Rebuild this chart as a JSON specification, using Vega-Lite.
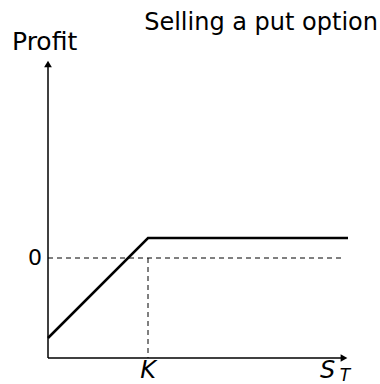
{
  "$schema": "https://vega.github.io/schema/vega-lite/v6.json",
  "autosize": "none",
  "width": 300,
  "height": 300,
  "padding": {"left": 48, "top": 58, "right": 32, "bottom": 26},
  "background": "white",
  "config": {"view": {"stroke": null}, "font": "DejaVu Sans"},
  "datasets": {
    "payoff": [
      {"s": 0, "p": -80},
      {"s": 100, "p": 20},
      {"s": 300, "p": 20}
    ],
    "zeroline": [
      {"s": 0, "p": 0},
      {"s": 296, "p": 0}
    ],
    "strike": [
      {"s": 100, "p": 0},
      {"s": 100, "p": -100}
    ],
    "xaxis": [
      {"s": 0, "p": -100},
      {"s": 296, "p": -100}
    ],
    "yaxis": [
      {"s": 0, "p": -100},
      {"s": 0, "p": 194}
    ],
    "xarrow": [{"s": 296, "p": -100}],
    "yarrow": [{"s": 0, "p": 194}],
    "zerolabel": [{"s": -6, "p": 0, "text": "0"}],
    "varlabels": [
      {"s": 100, "p": -120, "text": "K"}
    ],
    "statelabel": [
      {"s": 272, "p": -120, "text": "S"}
    ],
    "sublabel": [{"s": 297, "p": -123, "text": "T"}],
    "ylabel": [{"s": -36, "p": 208, "text": "Profit"}],
    "heading": [{"s": 330, "p": 228, "text": "Selling a put option"}]
  },
  "encoding": {
    "x": {"field": "s", "type": "quantitative", "scale": {"domain": [0, 300]}, "axis": null},
    "y": {"field": "p", "type": "quantitative", "scale": {"domain": [-100, 200]}, "axis": null}
  },
  "layer": [
    {
      "data": {"name": "zeroline"},
      "mark": {"type": "line", "color": "black", "strokeWidth": 1, "strokeDash": [5, 4], "clip": false},
      "encoding": {}
    },
    {
      "data": {"name": "strike"},
      "mark": {"type": "line", "color": "black", "strokeWidth": 1, "strokeDash": [5, 4], "clip": false},
      "encoding": {}
    },
    {
      "data": {"name": "xaxis"},
      "mark": {"type": "line", "color": "black", "strokeWidth": 1.5, "clip": false},
      "encoding": {}
    },
    {
      "data": {"name": "yaxis"},
      "mark": {"type": "line", "color": "black", "strokeWidth": 1.5, "clip": false},
      "encoding": {}
    },
    {
      "data": {"name": "xarrow"},
      "mark": {"type": "point", "shape": "triangle-right", "filled": true, "color": "black", "size": 60, "opacity": 1, "clip": false}
    },
    {
      "data": {"name": "yarrow"},
      "mark": {"type": "point", "shape": "triangle-up", "filled": true, "color": "black", "size": 60, "opacity": 1, "clip": false}
    },
    {
      "data": {"name": "payoff"},
      "mark": {"type": "line", "color": "black", "strokeWidth": 2.5, "clip": false},
      "encoding": {}
    },
    {
      "data": {"name": "zerolabel"},
      "mark": {"type": "text", "color": "black", "fontSize": 22, "align": "right", "baseline": "middle", "clip": false},
      "encoding": {"text": {"field": "text"}}
    },
    {
      "data": {"name": "varlabels"},
      "mark": {"type": "text", "color": "black", "fontSize": 24, "fontStyle": "italic", "align": "center", "baseline": "alphabetic", "clip": false},
      "encoding": {"text": {"field": "text"}}
    },
    {
      "data": {"name": "statelabel"},
      "mark": {"type": "text", "color": "black", "fontSize": 24, "fontStyle": "italic", "align": "left", "baseline": "alphabetic", "clip": false},
      "encoding": {"text": {"field": "text"}}
    },
    {
      "data": {"name": "sublabel"},
      "mark": {"type": "text", "color": "black", "fontSize": 17, "fontStyle": "italic", "align": "center", "baseline": "alphabetic", "clip": false},
      "encoding": {"text": {"field": "text"}}
    },
    {
      "data": {"name": "ylabel"},
      "mark": {"type": "text", "color": "black", "fontSize": 25, "align": "left", "baseline": "alphabetic", "clip": false},
      "encoding": {"text": {"field": "text"}}
    },
    {
      "data": {"name": "heading"},
      "mark": {"type": "text", "color": "black", "fontSize": 24, "align": "right", "baseline": "alphabetic", "clip": false},
      "encoding": {"text": {"field": "text"}}
    }
  ]
}
